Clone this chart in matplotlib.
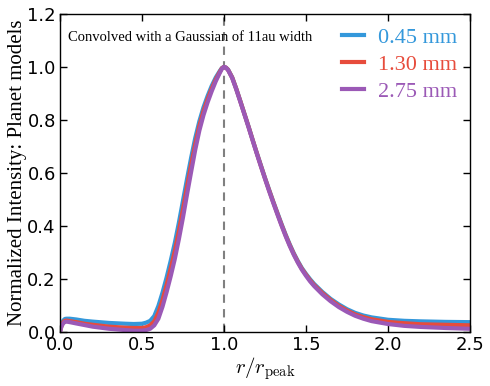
import matplotlib

matplotlib.use("Agg")
import matplotlib.pyplot as plt

plt.rcParams["mathtext.fontset"] = "cm"

# radius grid (r / r_peak) shared by the three models
r_grid = [0.0, 0.005, 0.01, 0.02, 0.03, 0.04, 0.06, 0.1, 0.15, 0.2, 0.3, 0.4, 0.45, 0.5,
          0.525, 0.55, 0.575, 0.6, 0.625, 0.65, 0.675, 0.7, 0.725, 0.75, 0.775, 0.8, 0.825,
          0.85, 0.875, 0.9, 0.925, 0.95, 0.975,
          0.9875, 1.0, 1.0125,
          1.025, 1.05, 1.075, 1.1, 1.125, 1.15, 1.175, 1.2, 1.225, 1.25, 1.275, 1.3, 1.325,
          1.35, 1.375, 1.4, 1.425, 1.45, 1.475, 1.5, 1.525, 1.55,
          1.6, 1.65, 1.7, 1.75, 1.8, 1.85, 1.9,
          2.0, 2.1, 2.2, 2.35, 2.5]

# normalized intensities
int_045 = [0.0, 0.015, 0.03, 0.043, 0.049, 0.05, 0.05, 0.047, 0.042, 0.039, 0.034, 0.031, 0.03, 0.031,
           0.035, 0.042, 0.06, 0.098, 0.148, 0.205, 0.268, 0.335, 0.412, 0.495, 0.578, 0.658, 0.732,
           0.795, 0.847, 0.89, 0.928, 0.96, 0.985,
           0.996, 1.0, 0.997,
           0.99, 0.961, 0.918, 0.871, 0.823, 0.775, 0.725, 0.676, 0.629, 0.582, 0.537, 0.493, 0.451,
           0.409, 0.369, 0.332, 0.298, 0.268, 0.241, 0.219, 0.199, 0.181,
           0.151, 0.125, 0.104, 0.086, 0.072, 0.062, 0.055,
           0.046, 0.042, 0.04, 0.038, 0.037]
int_130 = [0.0, 0.013, 0.025, 0.037, 0.042, 0.043, 0.041, 0.037, 0.031, 0.027, 0.02, 0.016, 0.015, 0.015,
           0.018, 0.025, 0.04, 0.073, 0.12, 0.177, 0.239, 0.305, 0.381, 0.463, 0.549, 0.632, 0.71,
           0.778, 0.833, 0.878, 0.918, 0.953, 0.982,
           0.995, 1.0, 0.997,
           0.989, 0.96, 0.917, 0.87, 0.822, 0.774, 0.724, 0.675, 0.627, 0.58, 0.535, 0.491, 0.448,
           0.406, 0.366, 0.329, 0.295, 0.265, 0.238, 0.216, 0.195, 0.177,
           0.147, 0.121, 0.099, 0.081, 0.066, 0.056, 0.048,
           0.038, 0.033, 0.029, 0.027, 0.025]
int_275 = [0.0, 0.012, 0.022, 0.033, 0.038, 0.039, 0.037, 0.032, 0.026, 0.02, 0.012, 0.007, 0.005, 0.005,
           0.007, 0.012, 0.025, 0.05, 0.095, 0.15, 0.21, 0.275, 0.35, 0.432, 0.52, 0.605, 0.688,
           0.76, 0.818, 0.866, 0.908, 0.946, 0.978,
           0.993, 1.0, 0.997,
           0.988, 0.958, 0.915, 0.868, 0.82, 0.772, 0.722, 0.673, 0.625, 0.578, 0.532, 0.488, 0.445,
           0.403, 0.363, 0.326, 0.292, 0.262, 0.235, 0.212, 0.191, 0.173,
           0.142, 0.116, 0.094, 0.076, 0.061, 0.05, 0.041,
           0.03, 0.023, 0.019, 0.015, 0.012]

labels = ["0.45 mm", "1.30 mm", "2.75 mm"]
colors = ["#3498db", "#e74c3c", "#9b59b6"]
series = [int_045, int_130, int_275]

xticks = [0.0, 0.5, 1.0, 1.5, 2.0, 2.5]
yticks = [0.0, 0.2, 0.4, 0.6, 0.8, 1.0, 1.2]

serif = ["Liberation Serif", "DejaVu Serif"]

fig = plt.figure(figsize=(4.9, 3.86), dpi=100)
ax = fig.add_axes([0.1224, 0.140, 0.8367, 0.824])

for values, label, color in zip(series, labels, colors):
    ax.plot(r_grid, values, color=color, lw=3, label=label)

ax.axvline(1.0, color="gray", ls="--", lw=1.5, dashes=(4, 3), zorder=0)

ax.set_xlim(0, 2.5)
ax.set_ylim(0, 1.2)
ax.set_xticks(xticks)
ax.set_yticks(yticks)
ax.tick_params(direction="in", top=True, right=True, length=5, width=1, labelsize=13, pad=3)
for spine in ax.spines.values():
    spine.set_linewidth(1)

ax.set_xlabel(r"$r/r_{\rm peak}$", fontsize=15, labelpad=1)
ax.set_ylabel("Normalized Intensity: Planet models", fontsize=15, family=serif, labelpad=0)

ax.text(0.02, 0.925, "Convolved with a Gaussian of 11au width", transform=ax.transAxes,
        fontsize=10.5, family=serif, ha="left", va="center")

leg = ax.legend(loc="upper right", frameon=False, handlelength=1.0, handletextpad=0.6,
                labelspacing=0.3, borderaxespad=0.2, prop={"family": serif, "size": 16})
for text, color in zip(leg.get_texts(), colors):
    text.set_color(color)

fig.savefig("out.png", dpi=100)
